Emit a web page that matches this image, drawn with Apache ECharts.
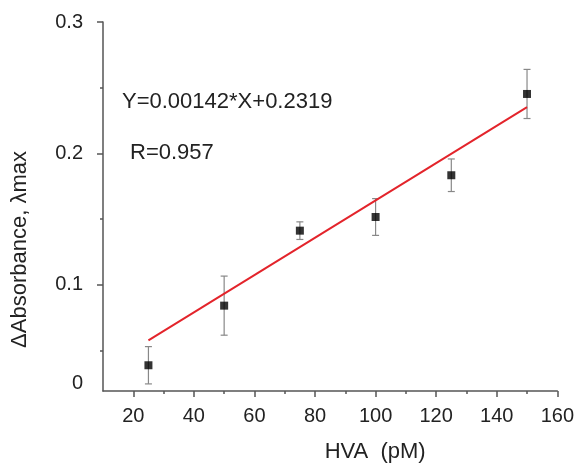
<!DOCTYPE html>
<html>
<head>
<meta charset="utf-8">
<script src="https://cdn.jsdelivr.net/npm/echarts@6/dist/echarts.min.js"></script>
<style>
  html, body { margin: 0; padding: 0; background: #fff; }
  #chart { width: 577px; height: 468px; }
</style>
</head>
<body>
<div id="chart"></div>
<script>
// measured points (HVA in pM vs delta absorbance)
const hva = [25, 50, 75, 100, 125, 150];
const absorb = [0.0386, 0.084, 0.1411, 0.1515, 0.1833, 0.2452];
const absErr = [0.0142, 0.0225, 0.0067, 0.014, 0.0124, 0.0187];

// fitted line end points
const fitX = [25, 150];
const fitY = [0.0576, 0.2351];

// tick values and labels
const xLabels = [20, 40, 60, 80, 100, 120, 140, 160];
const xMinor = [30, 50, 70, 90, 110, 130, 150];
const yLabelVals = [0.0247, 0.1, 0.2, 0.3];
const yLabelText = ['0', '0.1', '0.2', '0.3'];
const yMajor = [0.1, 0.2, 0.3];
const yMinor = [0.05, 0.15, 0.25];

const axisColor = '#555';
const textColor = '#222';
const font = 'Liberation Sans, Arial, sans-serif';

const chart = echarts.init(document.getElementById('chart'));

const option = {
  animation: false,
  grid: { left: 103, right: 19, top: 22, bottom: 75.5 },
  xAxis: [
    {
      type: 'value', min: 10, max: 160, position: 'bottom',
      name: 'HVA  (pM)', nameLocation: 'middle', nameGap: 50,
      nameTextStyle: { fontSize: 22, color: textColor, fontFamily: font, padding: [0, 0, 0, 90] },
      axisLine: { lineStyle: { color: axisColor, width: 1.5 } },
      axisTick: { customValues: xLabels, length: 6, lineStyle: { color: axisColor, width: 1.5 } },
      axisLabel: { customValues: xLabels, margin: 15, fontSize: 20, color: textColor, fontFamily: font },
      splitLine: { show: false }
    },
    {
      type: 'value', min: 10, max: 160, position: 'bottom',
      axisLine: { show: false },
      axisTick: { customValues: xMinor, length: 3, lineStyle: { color: axisColor, width: 1.5 } },
      axisLabel: { show: false },
      splitLine: { show: false }
    }
  ],
  yAxis: [
    {
      type: 'value', min: 0.019, max: 0.3, position: 'left',
      name: 'ΔAbsorbance, λmax', nameLocation: 'middle', nameGap: 72,
      nameTextStyle: { fontSize: 22, color: textColor, fontFamily: font, padding: [0, 86, 0, 0] },
      axisLine: { show: true, lineStyle: { color: axisColor, width: 1.5 } },
      axisTick: { show: true, customValues: yMajor, length: 6, lineStyle: { color: axisColor, width: 1.5 } },
      axisLabel: {
        customValues: yLabelVals, margin: 20, fontSize: 20, color: textColor, fontFamily: font,
        formatter: v => yLabelText[yLabelVals.indexOf(v)]
      },
      splitLine: { show: false }
    },
    {
      type: 'value', min: 0.019, max: 0.3, position: 'left',
      axisLine: { show: false },
      axisTick: { show: true, customValues: yMinor, length: 3, lineStyle: { color: axisColor, width: 1.5 } },
      axisLabel: { show: false },
      splitLine: { show: false }
    }
  ],
  series: [
    {
      type: 'custom',
      name: 'error',
      data: hva.map((x, i) => [x, absorb[i] - absErr[i], absorb[i] + absErr[i]]),
      renderItem: (params, api) => {
        const lo = api.coord([api.value(0), api.value(1)]);
        const hi = api.coord([api.value(0), api.value(2)]);
        const cap = 3.5;
        const style = { stroke: '#888', lineWidth: 1.2 };
        return {
          type: 'group',
          children: [
            { type: 'line', shape: { x1: lo[0], y1: lo[1], x2: hi[0], y2: hi[1] }, style },
            { type: 'line', shape: { x1: lo[0] - cap, y1: lo[1], x2: lo[0] + cap, y2: lo[1] }, style },
            { type: 'line', shape: { x1: hi[0] - cap, y1: hi[1], x2: hi[0] + cap, y2: hi[1] }, style }
          ]
        };
      },
      z: 2
    },
    {
      type: 'line',
      name: 'fit',
      data: fitX.map((x, i) => [x, fitY[i]]),
      showSymbol: false,
      lineStyle: { color: '#e3242b', width: 2 },
      z: 3
    },
    {
      type: 'scatter',
      name: 'data',
      data: hva.map((x, i) => [x, absorb[i]]),
      symbol: 'rect',
      symbolSize: 8,
      itemStyle: { color: '#000' },
      z: 4
    }
  ],
  graphic: [
    {
      type: 'text', left: 122, top: 91,
      style: { text: 'Y=0.00142*X+0.2319', fontSize: 22, fill: textColor, fontFamily: font }
    },
    {
      type: 'text', left: 130, top: 142,
      style: { text: 'R=0.957', fontSize: 22, fill: textColor, fontFamily: font }
    }
  ]
};

chart.setOption(option);
</script>
</body>
</html>
